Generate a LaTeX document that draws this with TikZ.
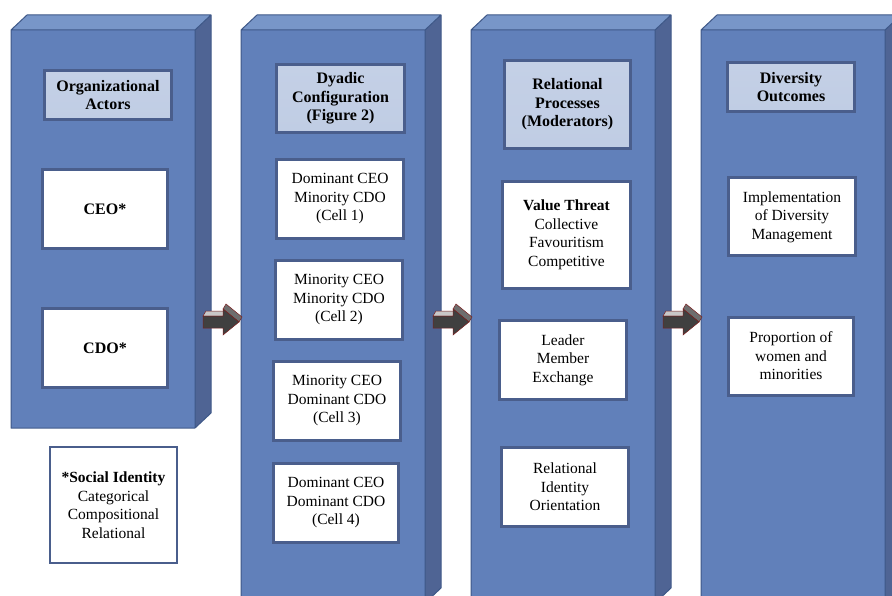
\documentclass[tikz,border=0pt]{standalone}
\usepackage{fontspec}
\setmainfont{Liberation Serif}
\definecolor{colfront}{HTML}{6180BA}
\definecolor{colside}{HTML}{4F6494}
\definecolor{coltop}{HTML}{7896C8}
\definecolor{coledge}{HTML}{3E5888}
\definecolor{boxline}{HTML}{4A5E8C}
\definecolor{hdtop}{HTML}{C4D0E6}
\definecolor{hdmid}{HTML}{F6F8FC}
\definecolor{hdbot}{HTML}{C0CDE4}
\definecolor{arrfront}{HTML}{404040}
\definecolor{arrtop}{HTML}{C8C8C8}
\definecolor{arrslant}{HTML}{6E6E6E}
\definecolor{arredge}{HTML}{7A1E1E}

% a 3D pillar: #1 = left x of the front face, #2 = bottom y of the front face
\newcommand\pillar[2]{%
  \fill[colfront] (#1,30) rectangle (#1+184,#2);
  \fill[coltop] (#1,30) -- (#1+16,15) -- (#1+200,15) -- (#1+184,30) -- cycle;
  \fill[colside] (#1+184,30) -- (#1+200,15) -- (#1+200,#2-15) -- (#1+184,#2) -- cycle;
  \draw[coledge, line width=1pt, line join=round]
    (#1,30) -- (#1+16,15) -- (#1+200,15) -- (#1+200,#2-15) -- (#1+184,#2) -- (#1,#2) -- cycle
    (#1,30) -- (#1+184,30) -- (#1+200,15)
    (#1+184,30) -- (#1+184,#2);
}

% a block arrow with a little depth, starting at x = #1
\newcommand\blockarrow[1]{%
  \begin{scope}[xshift=#1pt]
    \filldraw[arrtop, draw=arredge, line width=0.5pt]
      (203,316) -- (206,311) -- (226,311) -- (223,316) -- cycle;
    \filldraw[arrslant, draw=arredge, line width=0.5pt]
      (223,309) -- (226,304) -- (242,317) -- (239,322) -- cycle;
    \filldraw[arrfront, draw=arredge, line width=0.5pt]
      (203,316) -- (223,316) -- (223,309) -- (239,322) -- (223,335)
      -- (223,328) -- (203,328) -- cycle;
  \end{scope}
}

\tikzset{
  basebox/.style={draw=boxline, line width=3pt, align=center, inner sep=2pt},
  cellbox/.style={basebox, fill=white, font=\fontsize{15.5}{18.5}\selectfont},
  headbox/.style={basebox, top color=hdtop, middle color=hdmid, bottom color=hdbot,
    font=\fontsize{16}{18.5}\selectfont\bfseries},
  notebox/.style={draw=boxline, line width=2pt, fill=white, align=center, inner sep=2pt,
    font=\fontsize{15.5}{18.5}\selectfont},
}

\begin{document}
\begin{tikzpicture}[x=1pt, y=-1pt]
  \useasboundingbox (0,0) rectangle (892,596);
  \clip (0,0) rectangle (892,596);

  % the four stages
  \pillar{11}{428}
  \pillar{241}{603}
  \pillar{471}{603}
  \pillar{701}{603}

  % arrows between stages
  \blockarrow{0}
  \blockarrow{230}
  \blockarrow{460}

  % stage 1
  \node[headbox, minimum width=127pt, minimum height=49pt] (hdA) at (108,95)
    {Organizational\\Actors};
  \node[cellbox, minimum width=125pt, minimum height=79pt, font=\fontsize{16}{18.5}\selectfont\bfseries]
    (ceo) at (105,209) {CEO*};
  \node[cellbox, minimum width=125pt, minimum height=79pt, font=\fontsize{16}{18.5}\selectfont\bfseries]
    (cdo) at (105,348) {CDO*};
  \node[notebox, minimum width=127pt, minimum height=116pt] (sid) at (113.5,505)
    {\textbf{*Social Identity}\\Categorical\\Compositional\\Relational};

  % stage 2
  \node[headbox, minimum width=128pt, minimum height=68pt] (hdB) at (340.5,98.5)
    {Dyadic\\Configuration\\(Figure 2)};
  \node[cellbox, minimum width=127pt, minimum height=79pt] (cell1) at (340,199)
    {Dominant CEO\\Minority CDO\\(Cell 1)};
  \node[cellbox, minimum width=127pt, minimum height=79pt] (cell2) at (339,300)
    {Minority CEO\\Minority CDO\\(Cell 2)};
  \node[cellbox, minimum width=127pt, minimum height=79pt] (cell3) at (337,401)
    {Minority CEO\\Dominant CDO\\(Cell 3)};
  \node[cellbox, minimum width=125pt, minimum height=79pt] (cell4) at (336,503)
    {Dominant CEO\\Dominant CDO\\(Cell 4)};

  % stage 3
  \node[headbox, minimum width=126pt, minimum height=88pt] (hdC) at (567.5,104.5)
    {Relational\\Processes\\(Moderators)};
  \node[cellbox, minimum width=128pt, minimum height=107pt] (vt) at (566.5,235)
    {\textbf{Value Threat}\\Collective\\Favouritism\\Competitive};
  \node[cellbox, minimum width=127pt, minimum height=79pt] (lmx) at (563,360)
    {Leader\\Member\\Exchange};
  \node[cellbox, minimum width=127pt, minimum height=79pt] (rio) at (565,487)
    {Relational\\Identity\\Orientation};

  % stage 4
  \node[headbox, minimum width=127pt, minimum height=49pt] (hdD) at (791,87)
    {Diversity\\Outcomes};
  \node[cellbox, minimum width=127pt, minimum height=78pt] (impl) at (792,217)
    {Implementation\\of Diversity\\Management};
  \node[cellbox, minimum width=125pt, minimum height=78pt] (prop) at (791,356)
    {Proportion of\\women and\\minorities};
\end{tikzpicture}
\end{document}
